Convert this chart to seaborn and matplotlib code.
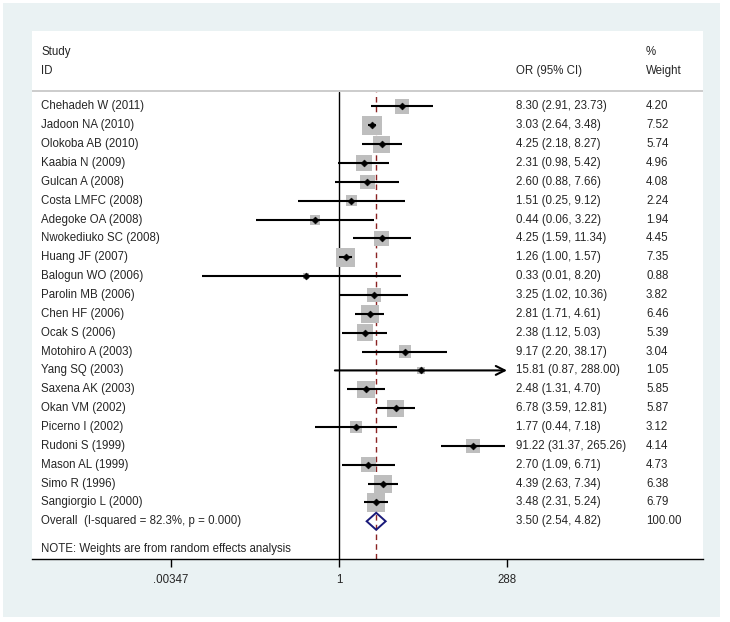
import numpy as np
import pandas as pd
import matplotlib
matplotlib.use("Agg")
import matplotlib.pyplot as plt
from matplotlib.patches import Rectangle, Polygon
import seaborn as sns

studies = ["Chehadeh W (2011)", "Jadoon NA (2010)", "Olokoba AB (2010)", "Kaabia N (2009)",
           "Gulcan A (2008)", "Costa LMFC (2008)", "Adegoke OA (2008)", "Nwokediuko SC (2008)",
           "Huang JF (2007)", "Balogun WO (2006)", "Parolin MB (2006)", "Chen HF (2006)",
           "Ocak S (2006)", "Motohiro A (2003)", "Yang SQ (2003)", "Saxena AK (2003)",
           "Okan VM (2002)", "Picerno I (2002)", "Rudoni S (1999)", "Mason AL (1999)",
           "Simo R (1996)", "Sangiorgio L (2000)"]
or_est = [8.30, 3.03, 4.25, 2.31, 2.60, 1.51, 0.44, 4.25, 1.26, 0.33, 3.25, 2.81,
          2.38, 9.17, 15.81, 2.48, 6.78, 1.77, 91.22, 2.70, 4.39, 3.48]
or_lci = [2.91, 2.64, 2.18, 0.98, 0.88, 0.25, 0.06, 1.59, 1.00, 0.01, 1.02, 1.71,
          1.12, 2.20, 0.87, 1.31, 3.59, 0.44, 31.37, 1.09, 2.63, 2.31]
or_uci = [23.73, 3.48, 8.27, 5.42, 7.66, 9.12, 3.22, 11.34, 1.57, 8.20, 10.36, 4.61,
          5.03, 38.17, 288.00, 4.70, 12.81, 7.18, 265.26, 6.71, 7.34, 5.24]
weights = [4.20, 7.52, 5.74, 4.96, 4.08, 2.24, 1.94, 4.45, 7.35, 0.88, 3.82, 6.46,
           5.39, 3.04, 1.05, 5.85, 5.87, 3.12, 4.14, 4.73, 6.38, 6.79]
overall_label = "Overall  (I-squared = 82.3%, p = 0.000)"
overall = [3.50, 2.54, 4.82]
overall_weight = 100.00
tick_values = [0.00347, 1, 288]
tick_labels = [".00347", "1", "288"]

df = pd.DataFrame({"study": studies, "or": or_est, "lci": or_lci, "uci": or_uci,
                   "w": weights})
df["row"] = np.arange(len(df))

sns.set_style("white")
plt.rcParams["font.family"] = ["Liberation Sans", "DejaVu Sans"]
FS = 8.3

W, H = 730, 622
fig = plt.figure(figsize=(W / 100, H / 100), dpi=100)
fig.patch.set_facecolor("white")
fig.patches.append(Rectangle((3 / W, 1 - 617 / H), 717 / W, 614 / H,
                             transform=fig.transFigure, facecolor="#EAF2F3",
                             edgecolor="none", zorder=-10))

ax = fig.add_axes([32 / W, 1 - 559 / H, (703 - 32) / W, (559 - 31) / H])
ax.set_facecolor("white")
ax.set_xscale("log")
ax.set_xlim(np.exp(-10.35), np.exp(12.27))
ax.set_ylim(24, -4)

# reference lines
ax.plot([1, 1], [24, -0.77], color="black", lw=1.0, zorder=1)
ax.plot([overall[0], overall[0]], [24, -0.77], color="#8B2323", lw=1.0,
        ls=(0, (4, 3)), zorder=1)
ax.axhline(-0.82, color="#C8C8C8", lw=1.3, zorder=1)

# weight squares
sns.scatterplot(data=df, x="or", y="row", size="w", sizes=(0, 260), size_norm=(0, 10),
                marker="s", color="#BEBEBE", edgecolor="none", linewidth=0,
                legend=False, ax=ax, zorder=2)

# CIs
for _, r in df.iterrows():
    if r["uci"] >= 288:
        ax.annotate("", xy=(r["uci"], r["row"]), xytext=(r["lci"], r["row"]),
                    arrowprops=dict(arrowstyle="->", lw=1.5, color="black",
                                    mutation_scale=16, shrinkA=0, shrinkB=0),
                    zorder=3)
    else:
        ax.plot([r["lci"], r["uci"]], [r["row"], r["row"]], color="black", lw=1.5,
                zorder=3, solid_capstyle="butt")

sns.scatterplot(data=df, x="or", y="row", marker="D", s=13, color="black",
                edgecolor="black", linewidth=0.3, legend=False, ax=ax, zorder=4)

# overall diamond
orow = len(df)
dia = Polygon([(overall[1], orow), (overall[0], orow - 0.45), (overall[2], orow),
               (overall[0], orow + 0.45)], closed=True, facecolor="none",
              edgecolor="#1A1A7A", lw=1.4, zorder=4)
ax.add_patch(dia)

# text columns
tr_study = ax.get_yaxis_transform()
def px_x(px):
    return (px - 32) / (703 - 32)

for _, r in df.iterrows():
    ax.text(px_x(41), r["row"], r["study"], transform=tr_study, fontsize=FS, va="center")
    ax.text(px_x(516), r["row"],
            f"{r['or']:.2f} ({r['lci']:.2f}, {r['uci']:.2f})",
            transform=tr_study, fontsize=FS, va="center")
    ax.text(px_x(646), r["row"], f"{r['w']:.2f}", transform=tr_study,
            fontsize=FS, va="center")

ax.text(px_x(41), orow, overall_label, transform=tr_study, fontsize=FS, va="center")
ax.text(px_x(516), orow, f"{overall[0]:.2f} ({overall[1]:.2f}, {overall[2]:.2f})",
        transform=tr_study, fontsize=FS, va="center")
ax.text(px_x(646), orow, f"{overall_weight:.2f}", transform=tr_study, fontsize=FS,
        va="center")

ax.text(px_x(41), -2.89, "Study", transform=tr_study, fontsize=FS, va="center")
ax.text(px_x(41), -1.88, "ID", transform=tr_study, fontsize=FS, va="center")
ax.text(px_x(516), -1.88, "OR (95% CI)", transform=tr_study, fontsize=FS, va="center")
ax.text(px_x(646), -2.89, "%", transform=tr_study, fontsize=FS, va="center")
ax.text(px_x(646), -1.88, "Weight", transform=tr_study, fontsize=FS, va="center")
ax.text(px_x(41), 23.46, "NOTE: Weights are from random effects analysis",
        transform=tr_study, fontsize=FS, va="center")

# axes styling
for s in ["top", "right", "left"]:
    ax.spines[s].set_visible(False)
ax.spines["bottom"].set_color("black")
ax.spines["bottom"].set_linewidth(1.0)
ax.set_yticks([])
ax.set_xticks(tick_values)
ax.set_xticklabels(tick_labels, fontsize=FS)
ax.xaxis.set_minor_locator(matplotlib.ticker.NullLocator())
ax.tick_params(axis="x", direction="out", length=6, width=1.0, color="black", pad=5,
               bottom=True)
ax.set_xlabel("")
ax.set_ylabel("")

fig.savefig("out.png", dpi=100)
